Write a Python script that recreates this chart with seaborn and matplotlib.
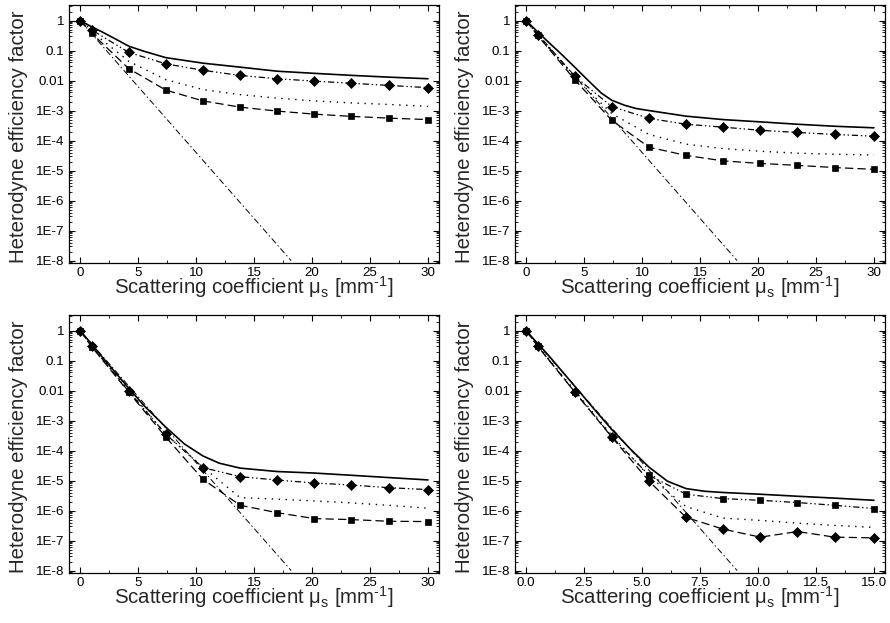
import numpy as np
import pandas as pd
import matplotlib
matplotlib.use("Agg")
import matplotlib.pyplot as plt
import matplotlib.ticker as mticker
import seaborn as sns

# ---------------- data ----------------
X_GRID_30 = [0, 1, 4.2, 7.4, 10.6, 13.8, 17, 20.2, 23.4, 26.6, 30]
X_GRID_15 = [0, 0.5, 2.1, 3.7, 5.3, 6.9, 8.5, 10.1, 11.7, 13.3, 15]

# panel 1
p1_solid_x = [0, 1, 2, 3, 4.2, 5.5, 7.4, 10.6, 13.8, 17, 20.2, 23.4, 26.6, 30]
p1_solid = [1, 0.62, 0.4, 0.25, 0.14, 0.095, 0.058, 0.038, 0.028, 0.0205, 0.0174, 0.0149, 0.013, 0.0115]
p1_diamond = [1, 0.49, 0.087, 0.036, 0.022, 0.0148, 0.0115, 0.0096, 0.0081, 0.0069, 0.0058]
p1_dotted = [1, 0.43, 0.044, 0.0107, 0.0050, 0.0034, 0.0026, 0.0021, 0.0018, 0.0016, 0.00138]
p1_square = [1, 0.38, 0.025, 0.0048, 0.0021, 0.0013, 9.6e-4, 7.6e-4, 6.4e-4, 5.6e-4, 5.0e-4]

# panel 2
p2_solid_x = [0, 1, 2, 3, 4.2, 5.5, 6.5, 7.4, 8.5, 9.5, 10.6, 13.8, 17, 20.2, 23.4, 26.6, 30]
p2_solid = [1, 0.42, 0.18, 0.079, 0.028, 8.9e-3, 3.8e-3, 2.2e-3, 1.5e-3, 1.17e-3, 1.0e-3,
            6.5e-4, 5.0e-4, 4.2e-4, 3.5e-4, 3.0e-4, 2.66e-4]
p2_diamond = [1, 0.33, 0.0138, 1.35e-3, 5.5e-4, 3.5e-4, 2.8e-4, 2.2e-4, 1.86e-4, 1.6e-4, 1.4e-4]
p2_dotted = [1, 0.33, 0.0126, 7.9e-4, 1.6e-4, 7.6e-5, 5.4e-5, 4.4e-5, 3.8e-5, 3.5e-5, 3.3e-5]
p2_square = [1, 0.32, 0.0107, 4.7e-4, 6.0e-5, 3.2e-5, 2.1e-5, 1.73e-5, 1.49e-5, 1.26e-5, 1.1e-5]

# panel 3
p3_solid_x = [0, 1, 2, 3, 4.2, 5.5, 7.4, 9, 10.6, 12, 13.8, 17, 20.2, 23.4, 26.6, 30]
p3_solid = [1, 0.355, 0.12, 0.042, 0.012, 3.2e-3, 6.0e-4, 1.66e-4, 6.6e-5, 3.8e-5, 2.6e-5,
            2.0e-5, 1.78e-5, 1.5e-5, 1.26e-5, 1.05e-5]
p3_diamond = [1, 0.31, 0.0094, 3.5e-4, 2.7e-5, 1.35e-5, 1.04e-5, 8.3e-6, 7.1e-6, 5.8e-6, 5.0e-6]
p3_dotted = [1, 0.32, 0.01, 3.5e-4, 2.8e-5, 2.7e-6, 2.4e-6, 2.1e-6, 1.8e-6, 1.5e-6, 1.2e-6]
p3_square = [1, 0.29, 0.0088, 2.8e-4, 1.1e-5, 1.5e-6, 8.5e-7, 5.4e-7, 5.0e-7, 4.4e-7, 4.3e-7]

# panel 4
p4_solid_x = [0, 0.5, 1, 2.1, 3, 3.7, 4.5, 5.3, 6.1, 6.9, 7.7, 8.5, 10.1, 11.7, 13.3, 15]
p4_solid = [1, 0.37, 0.14, 0.014, 2.1e-3, 5.0e-4, 1.12e-4, 2.8e-5, 9.5e-6, 5.4e-6, 4.4e-6,
            4.0e-6, 3.5e-6, 3.0e-6, 2.6e-6, 2.2e-6]
p4_square = [1, 0.31, 9.0e-3, 2.9e-4, 1.5e-5, 3.5e-6, 2.5e-6, 2.2e-6, 1.85e-6, 1.5e-6, 1.17e-6]
p4_dotted = [1, 0.32, 0.01, 3.2e-4, 1.4e-5, 1.35e-6, 5.6e-7, 4.7e-7, 3.8e-7, 3.2e-7, 2.75e-7]
p4_diamond = [1, 0.30, 9.0e-3, 2.8e-4, 9.6e-6, 5.9e-7, 2.4e-7, 1.3e-7, 2.0e-7, 1.3e-7, 1.23e-7]

# ballistic (straight dash-dot line)
ballistic_x_30 = [0, 18.2]
ballistic_x_15 = [0, 9.1]
ballistic_y = [1, 1e-8]

Y_TICKS = [1e-8, 1e-7, 1e-6, 1e-5, 1e-4, 1e-3, 1e-2, 1e-1, 1]
Y_TICK_LABELS = ["1E-8", "1E-7", "1E-6", "1E-5", "1E-4", "1E-3", "0.01", "0.1", "1"]
X_TICKS_30 = [0, 5, 10, 15, 20, 25, 30]
X_TICK_LABELS_30 = ["0", "5", "10", "15", "20", "25", "30"]
X_TICKS_15 = [0, 2.5, 5, 7.5, 10, 12.5, 15]
X_TICK_LABELS_15 = ["0.0", "2.5", "5.0", "7.5", "10.0", "12.5", "15.0"]

XLABEL = "Scattering coefficient μ$_{\\mathregular{s}}$ [mm$^{\\mathregular{‐1}}$]"
YLABEL = "Heterodyne efficiency factor"

# ---------------- style ----------------
sns.set_theme(style="ticks")
plt.rcParams.update({
    "font.family": ["Liberation Sans", "DejaVu Sans"],
    "mathtext.fontset": "custom",
    "mathtext.rm": "Liberation Sans",
    "mathtext.it": "Liberation Sans:italic",
    "mathtext.bf": "Liberation Sans:bold",
    "lines.scale_dashes": False,
    "axes.linewidth": 0.9,
    "axes.edgecolor": "black",
    "xtick.color": "black",
    "ytick.color": "black",
    "axes.facecolor": "white",
    "figure.facecolor": "white",
})

fig = plt.figure(figsize=(8.9, 6.23), dpi=100)
W, H = 890.0, 623.0
positions = [
    (69, 5, 439, 263),
    (515, 5, 885, 263),
    (69, 315, 439, 573),
    (515, 315, 885, 573),
]

panels = [
    dict(grid=X_GRID_30, sx=p1_solid_x, sy=p1_solid, dd=p1_diamond, dot=p1_dotted, ds=p1_square,
         bx=ballistic_x_30, swap=False, xt=X_TICKS_30, xtl=X_TICK_LABELS_30, xlim=(-0.95, 30.95), minor=2.5),
    dict(grid=X_GRID_30, sx=p2_solid_x, sy=p2_solid, dd=p2_diamond, dot=p2_dotted, ds=p2_square,
         bx=ballistic_x_30, swap=False, xt=X_TICKS_30, xtl=X_TICK_LABELS_30, xlim=(-0.95, 30.95), minor=2.5),
    dict(grid=X_GRID_30, sx=p3_solid_x, sy=p3_solid, dd=p3_diamond, dot=p3_dotted, ds=p3_square,
         bx=ballistic_x_30, swap=False, xt=X_TICKS_30, xtl=X_TICK_LABELS_30, xlim=(-0.95, 30.95), minor=2.5),
    dict(grid=X_GRID_15, sx=p4_solid_x, sy=p4_solid, dd=p4_square, dot=p4_dotted, ds=p4_diamond,
         bx=ballistic_x_15, swap=True, xt=X_TICKS_15, xtl=X_TICK_LABELS_15, xlim=(-0.475, 15.475), minor=1.25),
]

LS_DASHDOTDOT = (0, (4.5, 2.0, 1.0, 2.0, 1.0, 2.0))
LS_DOTTED = (0, (1.0, 4.0))
LS_DASHED = (0, (6.0, 3.0))
LS_DASHDOT = (0, (4.5, 2.0, 1.0, 2.0))

for (l, t, r, b), p in zip(positions, panels):
    ax = fig.add_axes([l / W, (H - b) / H, (r - l) / W, (b - t) / H])
    ax.set_yscale("log")

    # ballistic dash-dot
    sns.lineplot(x=p["bx"], y=ballistic_y, ax=ax, color="black", linewidth=0.7,
                 linestyle=LS_DASHDOT, estimator=None, sort=False, legend=False)
    # dotted
    sns.lineplot(x=p["grid"], y=p["dot"], ax=ax, color="black", linewidth=1.0,
                 linestyle=LS_DOTTED, estimator=None, sort=False, legend=False)
    m_upper = "s" if p["swap"] else "D"
    m_lower = "D" if p["swap"] else "s"
    ms_upper = 4.4 if m_upper == "s" else 5.0
    ms_lower = 4.4 if m_lower == "s" else 5.0
    # dash-dot-dot series (upper marked series)
    sns.lineplot(x=p["grid"], y=p["dd"], ax=ax, color="black", linewidth=0.9,
                 linestyle=LS_DASHDOTDOT, marker=m_upper, markersize=ms_upper,
                 markeredgecolor="black", markerfacecolor="black", markeredgewidth=0.5,
                 estimator=None, sort=False, legend=False)
    # dashed series (lower marked series)
    sns.lineplot(x=p["grid"], y=p["ds"], ax=ax, color="black", linewidth=0.9,
                 linestyle=LS_DASHED, marker=m_lower, markersize=ms_lower,
                 markeredgecolor="black", markerfacecolor="black", markeredgewidth=0.5,
                 estimator=None, sort=False, legend=False)
    # solid theory
    sns.lineplot(x=p["sx"], y=p["sy"], ax=ax, color="black", linewidth=1.2,
                 linestyle="-", estimator=None, sort=False, legend=False)

    ax.set_xlim(*p["xlim"])
    ax.set_ylim(8.3e-9, 3.3)

    ax.set_yticks(Y_TICKS)
    ax.set_yticklabels(Y_TICK_LABELS)
    ax.yaxis.set_minor_locator(mticker.LogLocator(base=10, subs=np.arange(2, 10), numticks=20))
    ax.yaxis.set_minor_formatter(mticker.NullFormatter())
    ax.set_xticks(p["xt"])
    ax.set_xticklabels(p["xtl"])
    ax.xaxis.set_minor_locator(mticker.MultipleLocator(p["minor"]))

    ax.tick_params(which="both", direction="in", top=True, right=True, color="black",
                   labelsize=9.6, pad=3.5)
    ax.tick_params(axis="x", which="both", pad=3.0)
    ax.tick_params(which="major", length=4.5, width=0.8)
    ax.tick_params(which="minor", length=2.5, width=0.6)
    for s in ax.spines.values():
        s.set_visible(True)
        s.set_linewidth(0.9)
        s.set_color("black")

    ax.set_xlabel(XLABEL, fontsize=14.7)
    ax.set_ylabel(YLABEL, fontsize=14.7)
    ax.xaxis.set_label_coords(0.5, -0.121)
    ax.xaxis.label.set_va("baseline")
    ax.yaxis.set_label_coords(-0.1203, 0.49)
    ax.yaxis.label.set_va("baseline")
    ax.grid(False)

fig.savefig("out.png", dpi=100, facecolor="white")
